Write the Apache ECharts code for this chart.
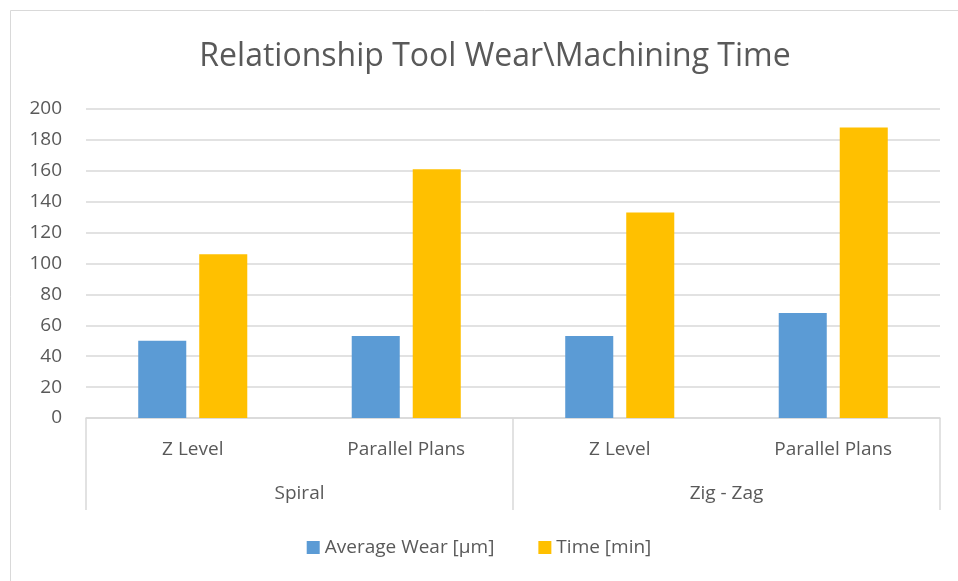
<!DOCTYPE html>
<html>
<head>
<meta charset="utf-8">
<script src="https://cdn.jsdelivr.net/npm/echarts@6/dist/echarts.min.js"></script>
<style>
  html, body { margin: 0; padding: 0; background: #fff; }
  #chart { width: 958px; height: 581px; }
</style>
</head>
<body>
<div id="chart"></div>
<script>
// data
const methods = ['Z Level', 'Parallel Plans', 'Z Level', 'Parallel Plans']
const strategies = ['Spiral', 'Zig - Zag']
const avgWear = [50, 53, 53, 68]
const timeMin = [106, 161, 133, 188]
const seriesNames = ['Average Wear [µm]', 'Time [min]']

const font = '"Open Sans", "Liberation Sans", sans-serif'
const txt = '#595959'
const line = '#d9d9d9'

const chart = echarts.init(document.getElementById('chart'))
chart.setOption({
  animation: false,
  backgroundColor: '#fff',
  textStyle: { fontFamily: font },
  title: {
    text: 'Relationship Tool Wear\\Machining Time',
    left: 490, top: 36, textAlign: 'center',
    textStyle: { fontFamily: font, fontSize: 32, fontWeight: 'normal', color: txt }
  },
  // outer chart border
  graphic: [{
    type: 'rect', silent: true, z: -1,
    shape: { x: 10.5, y: 10.5, width: 980, height: 600 },
    style: { fill: 'none', stroke: line, lineWidth: 1 }
  }],
  legend: {
    data: seriesNames,
    bottom: 19, left: 'center',
    itemWidth: 13, itemHeight: 13, itemGap: 44,
    icon: 'rect',
    textStyle: { fontFamily: font, fontSize: 19, color: txt }
  },
  grid: { left: 86, right: 18, top: 109, bottom: 163 },
  xAxis: [
    {
      type: 'category',
      data: methods,
      axisLine: { lineStyle: { color: line, width: 1.5 } },
      axisTick: { show: false },
      axisLabel: { color: txt, fontSize: 19, margin: 22, fontFamily: font }
    },
    {
      type: 'category',
      data: strategies,
      position: 'bottom',
      axisLine: { show: false },
      axisTick: { show: true, length: 92, lineStyle: { color: line, width: 1.5 } },
      axisLabel: { color: txt, fontSize: 19, margin: 66, fontFamily: font }
    }
  ],
  yAxis: {
    type: 'value',
    min: 0, max: 200, interval: 20,
    axisLine: { show: false },
    axisTick: { show: false },
    axisLabel: { color: txt, fontSize: 19, margin: 24, fontFamily: font },
    splitLine: { lineStyle: { color: line, width: 1.5 } }
  },
  series: [
    {
      name: seriesNames[0], type: 'bar', data: avgWear,
      barWidth: '22.5%', barGap: '27%',
      itemStyle: { color: '#5b9bd5' }
    },
    {
      name: seriesNames[1], type: 'bar', data: timeMin,
      barWidth: '22.5%', barGap: '27%',
      itemStyle: { color: '#ffc000' }
    }
  ]
})
</script>
</body>
</html>
